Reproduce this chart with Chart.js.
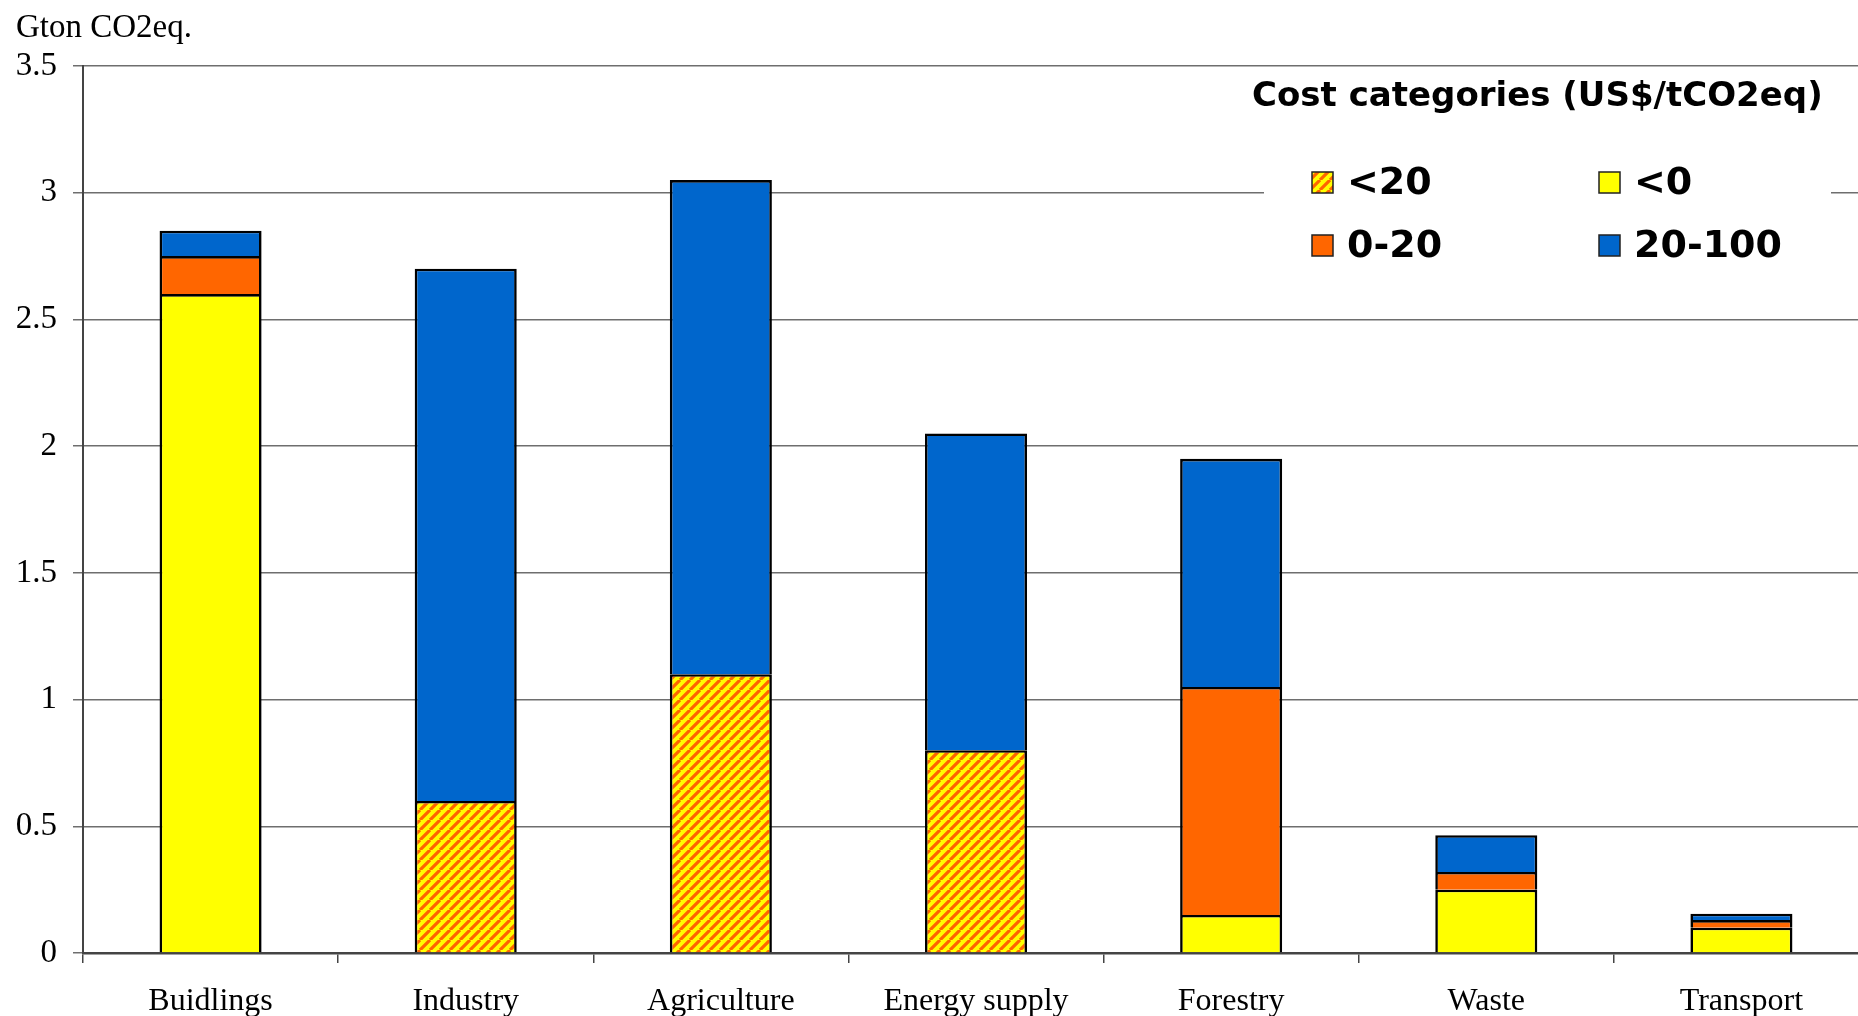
<!DOCTYPE html>
<html>
<head>
<meta charset="utf-8">
<script src="https://cdn.jsdelivr.net/npm/chart.js@4/dist/chart.umd.min.js"></script>
<style>
    html, body { margin: 0; padding: 0; background: #fff; overflow: hidden; }
    /* 画布比窗口略宽, 右侧最后一段被裁掉 */
    #wrap { width: 1858px; height: 1016px; overflow: hidden; }
</style>
</head>
<body>
<div id="wrap"><canvas id="chart" width="1869" height="1016"></canvas></div>
<script>
// 各部门减排潜力 (Gton CO2eq.)
const sectors = ['Buidlings', 'Industry', 'Agriculture', 'Energy supply', 'Forestry', 'Waste', 'Transport'];
const costBelow20 = [null, 0.6, 1.1, 0.8, null, null, null];
const costBelow0 = [2.6, null, null, null, 0.15, 0.25, 0.1];
const cost0to20 = [0.15, null, null, null, 0.9, 0.07, 0.03];
const cost20to100 = [0.1, 2.1, 1.95, 1.25, 0.9, 0.145, 0.025];
const yTicks = [0, 0.5, 1, 1.5, 2, 2.5, 3, 3.5];

const legendTitle = 'Cost categories (US$/tCO2eq)';
const legendLabels = ['<20', '<0', '0-20', '20-100'];

const YELLOW = '#ffff00';
const ORANGE = '#ff6600';
const BLUE = '#0066cc';

const ctx = document.getElementById('chart').getContext('2d');

/**
 * 黄底橙色斜纹填充
 */
function makeHatch() {
    const size = 10;
    const tile = document.createElement('canvas');
    tile.width = tile.height = size;
    const g = tile.getContext('2d');
    g.fillStyle = YELLOW;
    g.fillRect(0, 0, size, size);
    g.strokeStyle = ORANGE;
    g.lineWidth = 3.2;
    g.beginPath();
    for (const off of [-size, 0, size]) {
        g.moveTo(off, size);
        g.lineTo(off + size, 0);
    }
    g.stroke();
    return ctx.createPattern(tile, 'repeat');
}

const hatch = makeHatch();
const legendFills = [hatch, YELLOW, ORANGE, BLUE];

// 左上角单位
const unitLabel = {
    id: 'unitLabel',
    afterDraw(chart) {
        const c = chart.ctx;
        c.save();
        c.fillStyle = '#000';
        c.font = '33px "Liberation Serif", "Times New Roman", serif';
        c.textAlign = 'left';
        c.textBaseline = 'middle';
        c.fillText('Gton CO2eq.', 16, 28);
        c.restore();
    }
};

// 图例: 标题 + 2x2 色块
const costLegend = {
    id: 'costLegend',
    afterDraw(chart) {
        const c = chart.ctx;
        c.save();
        c.fillStyle = '#fff';
        c.fillRect(1264, 74, 567, 196);

        c.fillStyle = '#000';
        c.font = 'bold 34px "DejaVu Sans", Verdana, sans-serif';
        c.textAlign = 'left';
        c.textBaseline = 'middle';
        c.fillText(legendTitle, 1252, 97);

        const cols = [1312, 1599];
        const rows = [183, 246];
        c.font = 'bold 38px "DejaVu Sans", Verdana, sans-serif';
        legendLabels.forEach((label, i) => {
            const x = cols[i % 2];
            const y = rows[Math.floor(i / 2)];
            c.fillStyle = legendFills[i];
            c.fillRect(x, y - 11, 21, 21);
            c.strokeStyle = '#222';
            c.lineWidth = 1.5;
            c.strokeRect(x, y - 11, 21, 21);
            c.fillStyle = '#000';
            c.fillText(label, x + 35, y + 1);
        });
        c.restore();
    }
};

function barSet(label, data, color) {
    return {
        label: label,
        data: data,
        backgroundColor: color,
        borderColor: '#000',
        borderWidth: 2.6,
        borderSkipped: 'start',
        categoryPercentage: 1,
        barPercentage: 0.4
    };
}

new Chart(ctx, {
    type: 'bar',
    data: {
        labels: sectors,
        datasets: [
            barSet('<20', costBelow20, hatch),
            barSet('<0', costBelow0, YELLOW),
            barSet('0-20', cost0to20, ORANGE),
            barSet('20-100', cost20to100, BLUE)
        ]
    },
    options: {
        responsive: false,
        animation: false,
        layout: { padding: { top: 66, right: 0, left: 0, bottom: 0 } },
        plugins: {
            legend: { display: false },
            tooltip: { enabled: false }
        },
        scales: {
            x: {
                stacked: true,
                afterFit(scale) { scale.height = 63; },
                grid: {
                    offset: true,
                    drawOnChartArea: false,
                    drawTicks: true,
                    tickLength: 10,
                    color: '#444',
                    lineWidth: 1.5
                },
                border: { color: '#444', width: 2.5 },
                ticks: {
                    color: '#000',
                    padding: 19,
                    font: { family: '"Liberation Serif", "Times New Roman", serif', size: 32 }
                }
            },
            y: {
                stacked: true,
                min: 0,
                max: 3.5,
                afterFit(scale) { scale.width = 83; },
                afterBuildTicks(scale) {
                    scale.ticks = yTicks.map(v => ({ value: v }));
                },
                grid: {
                    color: '#6e6e6e',
                    lineWidth: 1.5,
                    tickLength: 10
                },
                border: { color: '#444', width: 2 },
                ticks: {
                    color: '#000',
                    padding: 16,
                    font: { family: '"Liberation Serif", "Times New Roman", serif', size: 33 },
                    callback: v => String(v)
                }
            }
        }
    },
    plugins: [unitLabel, costLegend]
});
</script>
</body>
</html>
